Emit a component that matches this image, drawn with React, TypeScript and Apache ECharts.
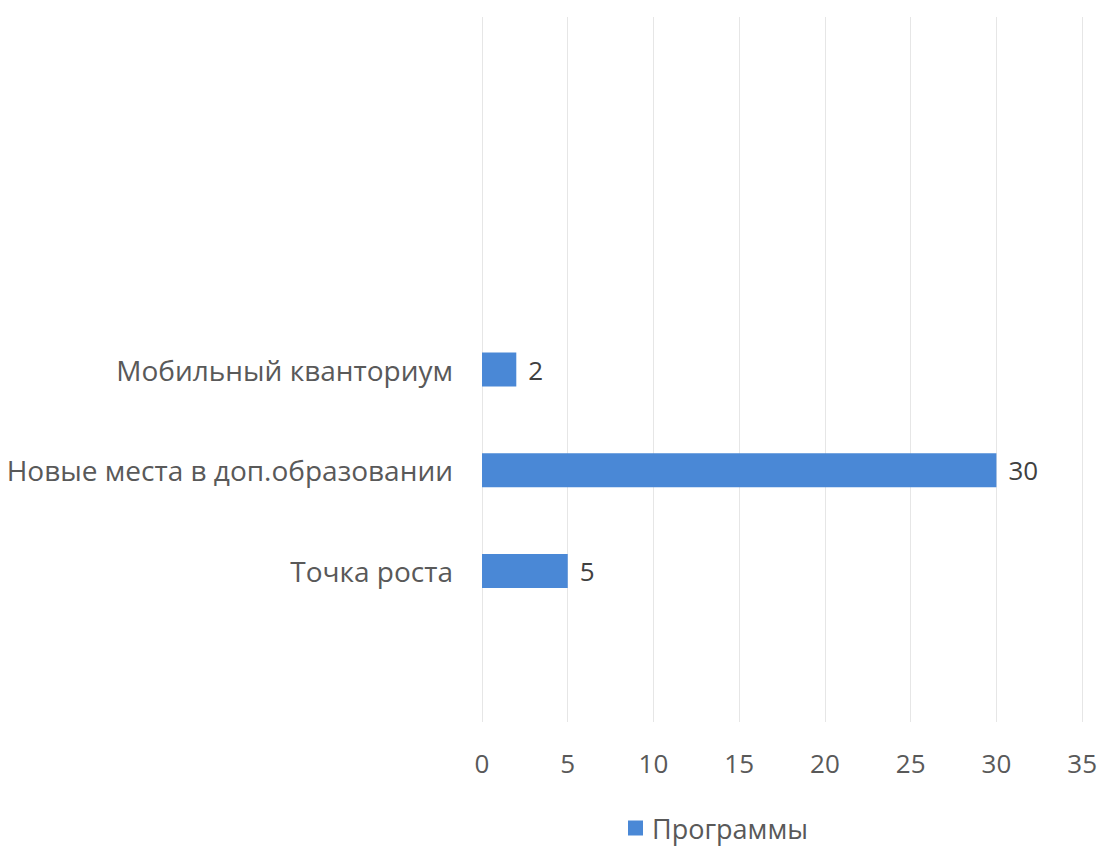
import React, { useEffect, useRef } from "react";
import * as echarts from "echarts";

const categories = ["", "Точка роста", "Новые места в доп.образовании", "Мобильный кванториум", "", "", ""];
const values: (number | null)[] = [null, 5, 30, 2, null, null, null];
const xTicks = [0, 5, 10, 15, 20, 25, 30, 35];
const seriesName = "Программы";

export default function App() {
  const ref = useRef<HTMLDivElement>(null);
  useEffect(() => {
    if (!ref.current) return;
    const chart = echarts.init(ref.current, null, { renderer: "svg" });
    chart.setOption({
      animation: false,
      textStyle: { fontFamily: "Open Sans" },
      grid: { left: 482, right: 15, top: 17, bottom: 124 },
      legend: {
        bottom: 2,
        left: 628,
        padding: 0,
        data: [seriesName],
        itemWidth: 15,
        itemHeight: 15,
        icon: "rect",
        textStyle: {
          fontSize: 27,
          lineHeight: 32,
          color: "#595959",
          fontFamily: "Open Sans",
          padding: [0, 0, 0, 4],
        },
      },
      xAxis: {
        type: "value",
        min: xTicks[0],
        max: xTicks[xTicks.length - 1],
        interval: 5,
        axisLine: { show: false },
        axisTick: { show: false },
        splitLine: { show: true, lineStyle: { color: "#e6e6e6", width: 1 } },
        axisLabel: { fontSize: 26, color: "#595959", margin: 28 },
      },
      yAxis: {
        type: "category",
        data: categories,
        axisLine: { show: false },
        axisTick: { show: false },
        axisLabel: { fontSize: 28, color: "#595959", margin: 29 },
      },
      series: [
        {
          name: seriesName,
          type: "bar",
          data: values,
          barWidth: 34,
          itemStyle: { color: "#4a88d6" },
          label: {
            show: true,
            position: "right",
            distance: 12,
            fontSize: 26,
            color: "#404040",
          },
        },
      ],
    });
    return () => chart.dispose();
  }, []);
  return (
    <div
      ref={ref}
      style={{ position: "absolute", left: 0, top: 0, width: 1100, height: 846 }}
    />
  );
}
